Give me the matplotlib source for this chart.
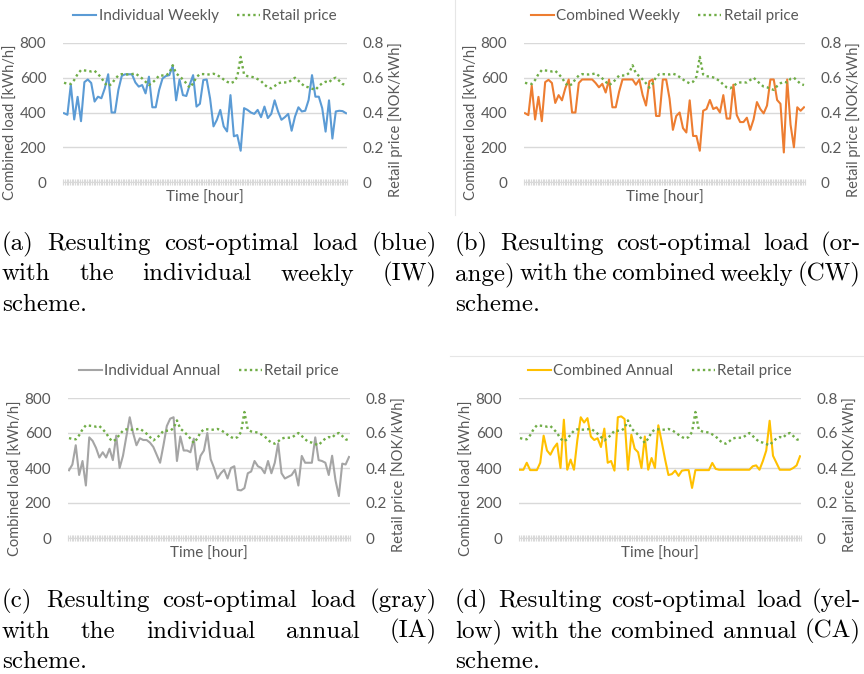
import matplotlib.pyplot as plt
import numpy as np
from matplotlib.lines import Line2D

# valores (84 pontos, passo de 2 h ao longo da semana)
price = [0.571, 0.566, 0.564, 0.587, 0.621, 0.644, 0.642, 0.640, 0.636, 0.640,
         0.621, 0.600, 0.568, 0.552, 0.564, 0.592, 0.613, 0.621, 0.619, 0.619,
         0.621, 0.625, 0.611, 0.596, 0.577, 0.558, 0.571, 0.590, 0.613, 0.613,
         0.613, 0.628, 0.672, 0.625, 0.609, 0.590, 0.568, 0.543, 0.568, 0.604,
         0.621, 0.621, 0.619, 0.619, 0.623, 0.617, 0.604, 0.590, 0.577, 0.568,
         0.577, 0.606, 0.720, 0.619, 0.609, 0.606, 0.602, 0.592, 0.581, 0.560,
         0.545, 0.539, 0.552, 0.568, 0.573, 0.573, 0.573, 0.587, 0.600, 0.583,
         0.564, 0.549, 0.545, 0.537, 0.530, 0.552, 0.568, 0.577, 0.573, 0.594,
         0.600, 0.583, 0.564, 0.558]

load_iw = [396, 387, 560, 360, 490, 350, 575, 590, 570, 463,
           491, 482, 539, 620, 400, 400, 530, 611, 620, 620,
           620, 573, 549, 558, 510, 606, 430, 430, 530, 596,
           610, 615, 670, 470, 590, 500, 495, 560, 615, 434,
           450, 587, 590, 480, 320, 358, 415, 320, 291, 500,
           263, 270, 180, 425, 415, 400, 392, 415, 373, 434,
           368, 392, 470, 406, 358, 373, 392, 295, 377, 430,
           406, 410, 472, 615, 491, 491, 425, 290, 470, 250,
           406, 410, 408, 396]

load_cw = [396, 385, 555, 360, 490, 350, 575, 588, 570, 455,
           500, 470, 540, 590, 400, 400, 570, 590, 590, 590,
           590, 570, 545, 565, 515, 590, 430, 430, 520, 590,
           590, 590, 590, 560, 590, 500, 440, 580, 590, 380,
           380, 590, 590, 480, 300, 380, 400, 310, 285, 470,
           265, 265, 180, 410, 420, 472, 420, 430, 400, 500,
           365, 365, 560, 385, 345, 345, 370, 300, 360, 460,
           420, 395, 440, 590, 590, 472, 450, 170, 590, 330,
           200, 430, 410, 430]

load_ia = [387, 420, 530, 360, 440, 300, 575, 555, 515, 460,
           490, 460, 510, 445, 585, 400, 470, 580, 690, 600,
           530, 570, 560, 560, 545, 520, 475, 430, 530, 640,
           682, 690, 440, 580, 500, 500, 490, 568, 390, 470,
           500, 600, 450, 400, 340, 370, 390, 340, 400, 410,
           275, 272, 285, 370, 380, 440, 410, 400, 370, 440,
           370, 430, 540, 370, 340, 350, 360, 390, 300, 469,
           430, 430, 430, 575, 445, 440, 430, 360, 470, 330,
           240, 425, 420, 463]

load_ca = [390, 390, 430, 388, 388, 388, 430, 585, 500, 476,
           514, 540, 400, 676, 390, 448, 390, 560, 690, 660,
           685, 580, 560, 570, 520, 625, 430, 440, 385, 690,
           695, 680, 390, 590, 510, 490, 400, 580, 390, 457,
           400, 644, 550, 450, 360, 365, 385, 355, 385, 388,
           388, 286, 388, 388, 388, 388, 388, 429, 395, 390,
           390, 390, 390, 390, 390, 390, 390, 390, 390, 410,
           415, 390, 440, 500, 670, 470, 430, 390, 390, 390,
           390, 400, 415, 467]

load_ticks = [0, 200, 400, 600, 800]
price_ticks = [0, 0.2, 0.4, 0.6, 0.8]
price_labels = ['0', '0.2', '0.4', '0.6', '0.8']

W, H = 864, 674
cinza = '#595959'
grade = '#D9D9D9'
verde = '#70AD47'

plt.rcParams['font.family'] = ['Lato', 'DejaVu Sans']
fig = plt.figure(figsize=(8.64, 6.74), dpi=100)
horas = np.arange(len(price))


def painel(left, top, right, bottom, load, cor, nome):
    w, h = right - left, bottom - top
    ax = fig.add_axes([left / W, 1 - bottom / H, w / W, h / H])
    ax2 = ax.twinx()

    ax.plot(horas, load, color=cor, lw=1.5)
    ax2.plot(horas, price, color=verde, lw=1.7, dashes=(1, 1.3))

    ax.set_xlim(-0.3, len(horas) - 0.7)
    ax.set_ylim(0, 800)
    ax2.set_ylim(0, 0.8)
    ax.set_yticks(load_ticks)
    ax2.set_yticks(price_ticks)
    ax2.set_yticklabels(price_labels)
    ax.grid(axis='y', color=grade, lw=1)
    ax.set_axisbelow(True)
    for a in (ax, ax2):
        for s in a.spines.values():
            s.set_visible(False)
    ax.spines['bottom'].set_visible(True)
    ax.spines['bottom'].set_color(grade)

    ax.set_xticks(np.arange(-0.25, len(horas) - 0.5, 0.5))
    ax.tick_params(axis='x', direction='inout', length=4, width=0.8,
                   color=grade, labelbottom=False)
    ax.tick_params(axis='y', length=0, pad=12, labelsize=11, labelcolor=cinza)
    ax2.tick_params(axis='y', length=0, pad=11, labelsize=11, labelcolor=cinza)

    ax.text(-52 / w, 0.43, 'Combined load [kWh/h]', transform=ax.transAxes,
            rotation=90, ha='center', va='center', fontsize=10.5, color=cinza)
    ax.text(1 + 49 / w, 0.45, 'Retail price [NOK/kWh]', transform=ax.transAxes,
            rotation=90, ha='center', va='center', fontsize=10.5, color=cinza)
    ax.text(0.5, -16 / h, 'Time [hour]', transform=ax.transAxes,
            ha='center', va='center', fontsize=11, color=cinza)

    handles = [Line2D([], [], color=cor, lw=1.5),
               Line2D([], [], color=verde, lw=1.7, dashes=(1, 1.3))]
    leg = ax.legend(handles, [nome, 'Retail price'], ncol=2, frameon=False,
                    loc='center', bbox_to_anchor=(0.5, 1 + 27 / h),
                    fontsize=11, handlelength=1.5, handletextpad=0.15,
                    columnspacing=1.2, borderaxespad=0)
    for t in leg.get_texts():
        t.set_color(cinza)


painel(63, 43, 347, 182, load_iw, '#5B9BD5', 'Individual Weekly')
painel(524, 43, 805, 182, load_cw, '#ED7D31', 'Combined Weekly')
painel(68, 398, 350, 538, load_ia, '#A5A5A5', 'Individual Annual')
painel(519, 398, 801, 538, load_ca, '#FFC000', 'Combined Annual')

# bordas claras dos gráficos recortados
fig.add_artist(Line2D([455 / W, 455 / W], [1, 1 - 215 / H], color='#E6E6E6', lw=0.8))
fig.add_artist(Line2D([450 / W, 1], [1 - 356 / H, 1 - 356 / H], color='#E6E6E6', lw=0.8))

# legendas das figuras (texto justificado)
rend = fig.canvas.get_renderer()


def legenda(linhas, x0, x1, base, passo=30.5):
    for k, (linha, just) in enumerate(linhas):
        y = 1 - (base + k * passo) / H
        palavras = linha.split()
        if not just:
            fig.text(x0 / W, y, linha, family='cmr10', fontsize=18, va='baseline')
            continue
        objs = [fig.text(0, y, p, family='cmr10', fontsize=18, va='baseline')
                for p in palavras]
        larg = [o.get_window_extent(rend).width for o in objs]
        gap = (x1 - x0 - sum(larg)) / (len(objs) - 1)
        x = x0
        for o, lw_ in zip(objs, larg):
            o.set_x(x / W)
            x += lw_ + gap


legenda([('(a) Resulting cost-optimal load (blue)', True),
         ('with the individual weekly (IW)', True),
         ('scheme.', False)], 2, 437, 250)
legenda([('(b) Resulting cost-optimal load (or-', True),
         ('ange) with the combined weekly (CW)', True),
         ('scheme.', False)], 455, 861, 250)
legenda([('(c) Resulting cost-optimal load (gray)', True),
         ('with the individual annual (IA)', True),
         ('scheme.', False)], 2, 437, 607)
legenda([('(d) Resulting cost-optimal load (yel-', True),
         ('low) with the combined annual (CA)', True),
         ('scheme.', False)], 455, 861, 607)

fig.savefig('out.png', dpi=100)
